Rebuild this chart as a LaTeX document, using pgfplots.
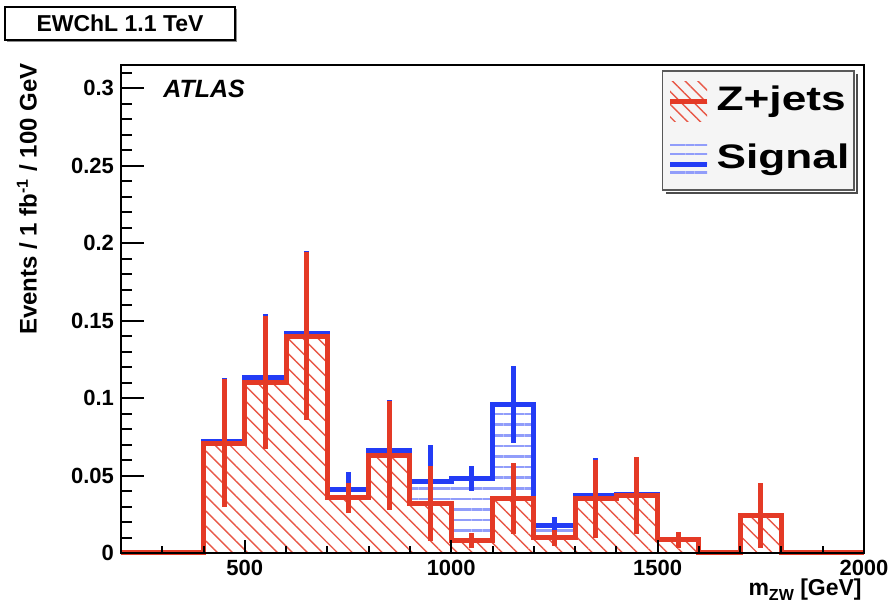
\documentclass[border=0pt]{standalone}
\usepackage{fontspec}
\setmainfont{Liberation Sans}
\usepackage{pgfplots}
\pgfplotsset{compat=1.18}
\usepackage{pgfplotstable}
\usetikzlibrary{patterns.meta,shadows}
\definecolor{zred}{RGB}{228,58,38}
\definecolor{sigblue}{RGB}{35,60,245}

% left bin edges, Z+jets (z) and total Z+jets+Signal (t)
\pgfplotstableread{
x    z       t
200  0       0
300  0       0
400  0.071   0.072
500  0.110   0.113
600  0.140   0.142
700  0.0355  0.041
800  0.063   0.066
900  0.032   0.046
1000 0.008   0.048
1100 0.035   0.096
1200 0.0097  0.018
1300 0.035   0.037
1400 0.037   0.038
1500 0.0084  0.0085
1600 0       0
1700 0.0245  0.0245
1800 0       0
1900 0       0
2000 0       0
}\hist

% bin centres with errors
\pgfplotstableread{
x    z       ze     t       te
450  0.071   0.041  0.072   0.041
550  0.110   0.043  0.113   0.041
650  0.140   0.054  0.142   0.053
750  0.0355  0.010  0.041   0.011
850  0.063   0.035  0.066   0.033
950  0.032   0.024  0.046   0.024
1050 0.008   0.005  0.048   0.008
1150 0.035   0.023  0.096   0.025
1250 0.0097  0.005  0.018   0.005
1350 0.035   0.025  0.037   0.024
1450 0.037   0.025  0.038   0.024
1550 0.0084  0.005  0.0085  0.005
1750 0.0245  0.021  0.0245  0.021
}\errs

\newcommand{\tickfont}{\bfseries\fontsize{11}{13}\selectfont}

\begin{document}
\begin{tikzpicture}
\useasboundingbox (-60.5pt,-26pt) rectangle (384.5pt,276.5pt);

\begin{axis}[
  at={(0,0)}, anchor=south west,
  scale only axis, width=371.5pt, height=244pt,
  xmin=200, xmax=2000, ymin=0, ymax=0.315,
  clip=false,
  axis line style={line width=1pt},
  xtick=\empty,
  ytick={0,0.05,0.1,0.15,0.2,0.25,0.3},
  yticklabels={0,0.05,0.1,0.15,0.2,0.25,0.3},
  minor ytick={0.01,0.02,0.03,0.04,0.06,0.07,0.08,0.09,0.11,0.12,0.13,0.14,0.16,0.17,0.18,0.19,0.21,0.22,0.23,0.24,0.26,0.27,0.28,0.29,0.31},
  ytick pos=left,
  tick align=inside,
  major tick length=11.5pt, minor tick length=5.5pt,
  tick style={line width=1pt, black},
  yticklabel style={font=\tickfont},
  legend cell align=left,
  legend style={name=leg, at={(0.988,0.9898)}, anchor=north east,
    fill=black!4, draw=black!65, line width=0.8pt,
    font=\bfseries\fontsize{17}{20}\selectfont,
    inner xsep=2.5pt, inner ysep=5.5pt, row sep=10pt, column sep=3.5pt,
    nodes={inner sep=0pt, text height=13.5pt, text depth=5pt}},
]
\addlegendimage{legend image code/.code={
  \path[draw=none, pattern={Lines[angle=-45,distance=4.5pt,line width=0.7pt]}, pattern color=zred!85] (0pt,-10pt) rectangle (18.5pt,10pt);
  \draw[zred, line width=2.5pt] (0pt,0pt) -- (18.5pt,0pt);}}
\addlegendentry{\scalebox{1.3}[1]{Z+jets}}
\addlegendimage{legend image code/.code={
  \path[draw=none, pattern={Lines[angle=0,distance=4.6pt,line width=1.3pt]}, pattern color=sigblue!50] (0pt,-9.3pt) rectangle (18.5pt,9.3pt);
  \draw[sigblue, line width=2.5pt] (0pt,-2pt) -- (18.5pt,-2pt);}}
\addlegendentry{\scalebox{1.3}[1]{Signal}}

% total (signal on top of Z+jets)
\addplot[forget plot, const plot, draw=none,
  pattern={Lines[angle=0,distance=5.3pt,line width=1.3pt]}, pattern color=sigblue!50]
  table[x=x,y=t]{\hist} \closedcycle;
\addplot[forget plot, const plot, sigblue, line width=2.5pt] table[x=x,y=t]{\hist};
\addplot[forget plot, draw=none, no markers,
  error bars/.cd, y dir=both, y explicit, error mark=none,
  error bar style={draw=sigblue, line width=2.5pt}]
  table[x=x,y=t,y error=te]{\errs};

% Z+jets
\addplot[forget plot, const plot, draw=none, fill=white] table[x=x,y=z]{\hist} \closedcycle;
\addplot[forget plot, const plot, draw=none,
  pattern={Lines[angle=-45,distance=5.3pt,line width=0.7pt]}, pattern color=zred!85]
  table[x=x,y=z]{\hist} \closedcycle;
\addplot[forget plot, const plot, zred, line width=2.5pt] table[x=x,y=z]{\hist};
\addplot[forget plot, draw=none, no markers,
  error bars/.cd, y dir=both, y explicit, error mark=none,
  error bar style={draw=zred, line width=2.5pt}]
  table[x=x,y=z,y error=ze]{\errs};
\end{axis}

% x ticks (shorter than y ticks, as in the reference)
\begin{axis}[
  at={(0,0)}, anchor=south west,
  scale only axis, width=371.5pt, height=244pt,
  xmin=200, xmax=2000, ymin=0, ymax=0.315,
  axis line style={line width=1pt},
  ytick=\empty,
  xtick={500,1000,1500,2000},
  xticklabels={500,1000,1500,2000},
  minor xtick={300,400,600,700,800,900,1100,1200,1300,1400,1600,1700,1800,1900},
  xtick pos=bottom,
  tick align=inside,
  major tick length=6.5pt, minor tick length=3.5pt,
  tick style={line width=1pt, black},
  xticklabel style={font=\tickfont},
]
\addplot[draw=none] coordinates {(200,0)};
\end{axis}

% legend shadow
\draw[black!70, line width=1.2pt]
  ([shift={(1pt,-2pt)}]leg.north east) -- ([shift={(1pt,-1pt)}]leg.south east)
  -- ([shift={(2pt,-1pt)}]leg.south west);

% labels
\node[rotate=90, anchor=east, inner sep=0pt, font=\bfseries\fontsize{12}{14}\selectfont]
  at (-47pt,245pt) {Events / 1 fb\textsuperscript{-1} / 100 GeV};
\node[anchor=base east, inner sep=0pt, font=\bfseries\fontsize{11.5}{13}\selectfont]
  at (370.5pt,-21.5pt) {m\raisebox{-2.5pt}{\fontsize{8}{9}\selectfont ZW} [GeV]};
\node[anchor=west, inner sep=0pt, font=\bfseries\itshape\fontsize{12.5}{14}\selectfont]
  at (21pt,232pt) {ATLAS};
\node[draw=black, line width=1pt, fill=white, minimum width=115pt, minimum height=16.5pt,
  inner sep=0pt, font=\bfseries\fontsize{11.5}{13}\selectfont,
  drop shadow={shadow xshift=1pt, shadow yshift=-1pt, opacity=1, fill=black!45}]
  at (-0.5pt,264.75pt) {EWChL 1.1 TeV};
\end{tikzpicture}
\end{document}
